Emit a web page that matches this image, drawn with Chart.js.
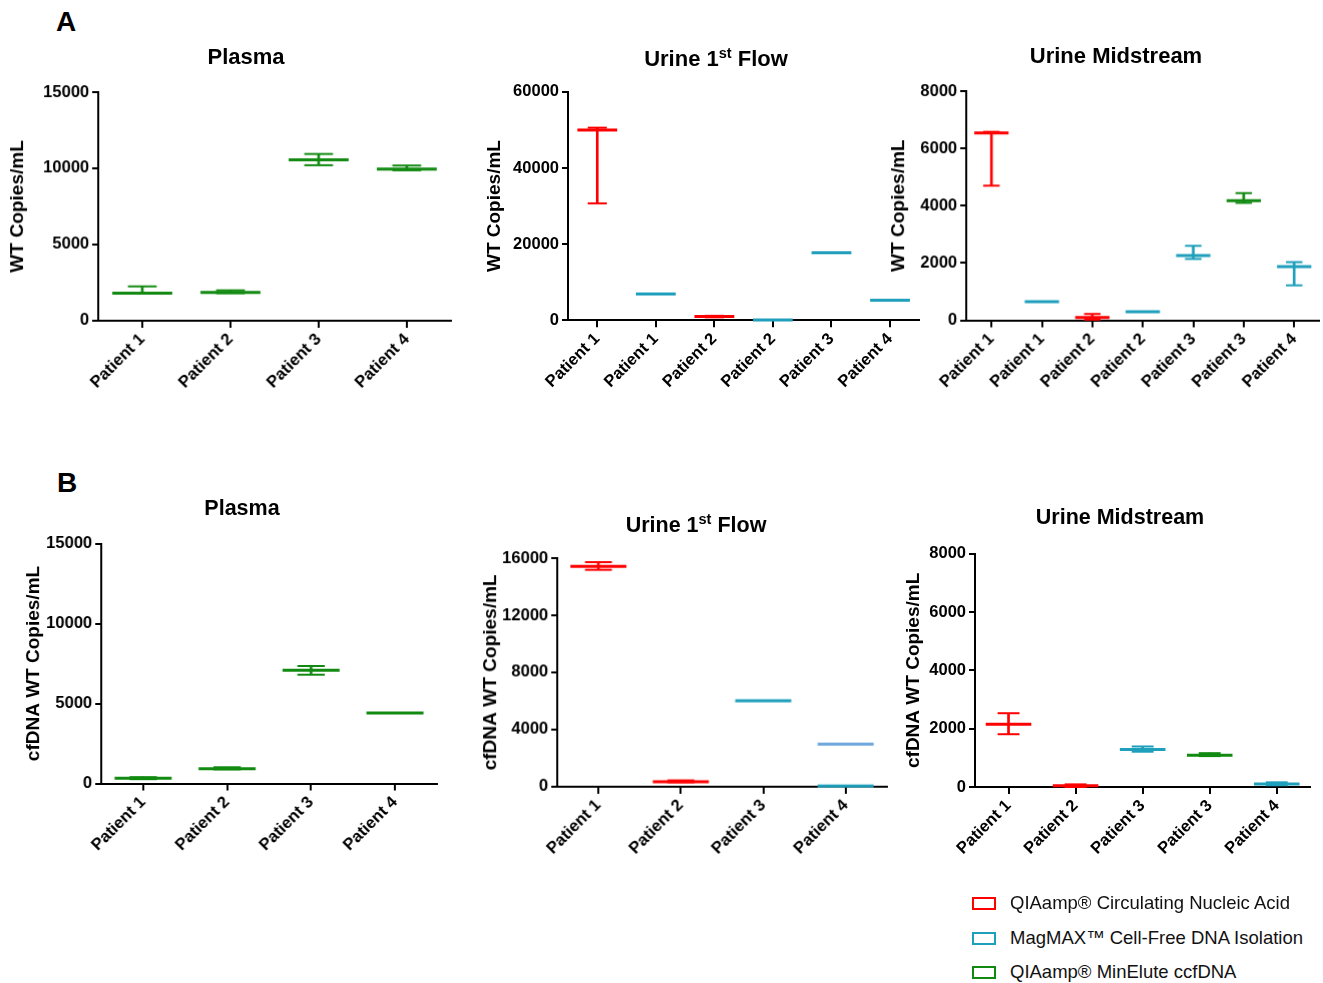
<!DOCTYPE html>
<html>
<head>
<meta charset="utf-8">
<script src="https://cdn.jsdelivr.net/npm/chart.js@4.4.1/dist/chart.umd.min.js"></script>
<style>
  body { margin:0; background:#fff; width:1323px; height:983px; position:relative; overflow:hidden;
         font-family: Arial, "Liberation Sans", Helvetica, sans-serif; }
  .box { position:absolute; }
  .ttl { position:absolute; width:320px; text-align:center; font-weight:bold; font-size:22px; line-height:22px; color:#000; white-space:nowrap; }
  .ttl sup { font-size:14.5px; line-height:0; vertical-align:8px; }
  .lbl { position:absolute; font-weight:bold; font-size:28px; line-height:28px; color:#000; }
  .leg { position:absolute; left:972px; height:24px; display:flex; align-items:center; font-size:18.5px; color:#111; white-space:nowrap; }
  .leg .sw { width:20px; height:9px; border:2px solid; margin-right:14px; }
</style>
</head>
<body>

<script>
// kit per mark: cna = QIAamp Circulating Nucleic Acid, mag = MagMAX, min = QIAamp MinElute
const kitColors = { cna: '#ff0000', mag: '#1e9fbb', min: '#128a12' };

// A - Plasma
const plasmaA_labels = ['Patient 1', 'Patient 2', 'Patient 3', 'Patient 4'];
const plasmaA_kit = ['min', 'min', 'min', 'min'];
const plasmaA_mean = [1810, 1850, 10550, 9940];
const plasmaA_low = [1790, 1800, 10200, 9870];
const plasmaA_high = [2250, 1990, 10940, 10180];
const plasmaA_ticks = [0, 5000, 10000, 15000];

// A - Urine 1st flow
const urine1A_labels = ['Patient 1', 'Patient 1', 'Patient 2', 'Patient 2', 'Patient 3', 'Patient 4'];
const urine1A_kit = ['cna', 'mag', 'cna', 'mag', 'mag', 'mag'];
const urine1A_mean = [50000, 6900, 970, 80, 17750, 5250];
const urine1A_low = [30700, null, 750, null, null, null];
const urine1A_high = [50600, null, 1150, null, null, null];
const urine1A_ticks = [0, 20000, 40000, 60000];

// A - Urine midstream
const midA_labels = ['Patient 1', 'Patient 1', 'Patient 2', 'Patient 2', 'Patient 3', 'Patient 3', 'Patient 4'];
const midA_kit = ['cna', 'mag', 'cna', 'mag', 'mag', 'min', 'mag'];
const midA_mean = [6540, 650, 95, 300, 2260, 4180, 1875];
const midA_low = [4700, null, 20, null, 2140, 4100, 1220];
const midA_high = [6580, null, 220, null, 2600, 4440, 2030];
const midA_ticks = [0, 2000, 4000, 6000, 8000];

// B - Plasma
const plasmaB_labels = ['Patient 1', 'Patient 2', 'Patient 3', 'Patient 4'];
const plasmaB_kit = ['min', 'min', 'min', 'min'];
const plasmaB_mean = [330, 915, 7075, 4400];
const plasmaB_low = [270, 880, 6800, null];
const plasmaB_high = [395, 1015, 7345, null];
const plasmaB_ticks = [0, 5000, 10000, 15000];

// B - Urine 1st flow
const urine1B_labels = ['Patient 1', 'Patient 2', 'Patient 3', 'Patient 4'];
const urine1B_kit = ['cna', 'cna', 'mag', 'mag'];
const urine1B_mean = [15420, 350, 6020, 40];
const urine1B_low = [15180, 300, null, null];
const urine1B_high = [15720, 440, null, null];
const urine1B_extra = [null, null, null, 2980];
const urine1B_ticks = [0, 4000, 8000, 12000, 16000];

// B - Urine midstream
const midB_labels = ['Patient 1', 'Patient 2', 'Patient 3', 'Patient 3', 'Patient 4'];
const midB_kit = ['cna', 'cna', 'mag', 'min', 'mag'];
const midB_mean = [2155, 40, 1290, 1085, 105];
const midB_low = [1810, 0, 1210, 1060, 60];
const midB_high = [2530, 90, 1390, 1160, 160];
const midB_ticks = [0, 2000, 4000, 6000, 8000];

Chart.defaults.font.family = 'Arial, "Liberation Sans", Helvetica, sans-serif';
Chart.defaults.color = '#000';

const yW = 95, pT = 12, pR = 10, xH = 90;

function meanR(c) {
  const a = c.chart.chartArea;
  return a ? (a.right - a.left) / c.chart.data.labels.length * 0.34 : 20;
}
function capR(c) { return meanR(c) * 0.48; }

function panel(area, titleGap, yTitle, labels, kit, mean, low, high, ticks, extra) {
  const div = document.createElement('div');
  div.className = 'box';
  div.style.left = (area[0] - yW) + 'px';
  div.style.top = (area[1] - pT) + 'px';
  div.style.width = (area[2] - area[0] + yW + pR) + 'px';
  div.style.height = (area[3] - area[1] + pT + xH) + 'px';
  const cv = document.createElement('canvas');
  div.appendChild(cv);
  document.body.appendChild(div);

  const cols = kit.map(k => kitColors[k]);
  const pts = (data, r, w, col) => ({
    type: 'line', data: data, showLine: false, clip: false,
    pointStyle: 'line', pointRadius: r, pointHoverRadius: r,
    pointBorderWidth: w, pointBorderColor: col, pointBackgroundColor: col
  });
  const datasets = [
    pts(mean, meanR, 3, cols),
    pts(high, capR, 2, cols),
    pts(low, capR, 2, cols),
    { type: 'bar', data: low.map((l, i) => l == null ? null : [l, high[i]]),
      backgroundColor: cols, barThickness: 2, borderWidth: 0 }
  ];
  if (extra) datasets.push(pts(extra, meanR, 3, '#6fa8dc'));

  const font = { size: 16.5, weight: 'bold' };
  const chart = new Chart(cv, {
    type: 'bar',
    data: { labels: labels, datasets: datasets },
    options: {
      responsive: true, maintainAspectRatio: false, animation: false,
      layout: { padding: { top: pT, right: pR, left: 0, bottom: 0 } },
      plugins: { legend: { display: false }, tooltip: { enabled: false } },
      scales: {
        x: {
          offset: true,
          grid: { offset: false, drawOnChartArea: false, drawTicks: true, tickLength: 7, lineWidth: 2, color: '#000' },
          border: { display: true, color: '#000', width: 2 },
          ticks: { autoSkip: false, minRotation: 45, maxRotation: 45, padding: 2, font: font, color: '#000' },
          afterFit: s => { s.height = xH; }
        },
        y: {
          min: ticks[0], max: ticks[ticks.length - 1],
          afterBuildTicks: s => { s.ticks = ticks.map(v => ({ value: v })); },
          grid: { drawOnChartArea: false, drawTicks: true, tickLength: 6, lineWidth: 2, color: '#000' },
          border: { display: true, color: '#000', width: 2 },
          ticks: { callback: v => String(v), padding: 3, font: font, color: '#000' },
          title: { display: true, text: yTitle, color: '#000', font: { size: 19, weight: 'bold' },
                   padding: { top: titleGap, bottom: 0 } },
          afterFit: s => { s.width = yW; }
        }
      }
    }
  });

  // nudge the canvas box so the plot area lands where the reference has it
  for (let k = 0; k < 2; k++) {
    const a = chart.chartArea;
    const L = parseFloat(div.style.left), T = parseFloat(div.style.top);
    const W = parseFloat(div.style.width), H = parseFloat(div.style.height);
    div.style.left = (L + area[0] - (L + a.left)) + 'px';
    div.style.top = (T + area[1] - (T + a.top)) + 'px';
    div.style.width = (W + (area[2] - area[0]) - (a.right - a.left)) + 'px';
    div.style.height = (H + (area[3] - area[1]) - (a.bottom - a.top)) + 'px';
    chart.resize();
  }
}

panel([98, 91, 451, 320], 3.6, 'WT Copies/mL', plasmaA_labels, plasmaA_kit, plasmaA_mean, plasmaA_low, plasmaA_high, plasmaA_ticks);
panel([568, 91, 920, 320], 10.6, 'WT Copies/mL', urine1A_labels, urine1A_kit, urine1A_mean, urine1A_low, urine1A_high, urine1A_ticks);
panel([966, 91, 1319, 320], 16.6, 'WT Copies/mL', midA_labels, midA_kit, midA_mean, midA_low, midA_high, midA_ticks);
panel([101, 542, 437, 783], 16.6, 'cfDNA WT Copies/mL', plasmaB_labels, plasmaB_kit, plasmaB_mean, plasmaB_low, plasmaB_high, plasmaB_ticks);
panel([557, 557, 887, 786], 17.6, 'cfDNA WT Copies/mL', urine1B_labels, urine1B_kit, urine1B_mean, urine1B_low, urine1B_high, urine1B_ticks, urine1B_extra);
panel([975, 553, 1311, 787], 22.6, 'cfDNA WT Copies/mL', midB_labels, midB_kit, midB_mean, midB_low, midB_high, midB_ticks);
</script>

<div class="lbl" style="left:56px; top:8px;">A</div>
<div class="lbl" style="left:57px; top:469px;">B</div>

<div class="ttl" style="left:86px; top:46px;">Plasma</div>
<div class="ttl" style="left:556px; top:48px;">Urine 1<sup>st</sup> Flow</div>
<div class="ttl" style="left:956px; top:45px;">Urine Midstream</div>
<div class="ttl" style="left:82px; top:497px; font-size:21.5px;">Plasma</div>
<div class="ttl" style="left:536px; top:514px; font-size:21.5px;">Urine 1<sup>st</sup> Flow</div>
<div class="ttl" style="left:960px; top:506px; font-size:21.5px;">Urine Midstream</div>

<div class="leg" style="top:891px;"><span class="sw" style="border-color:#ff0000"></span>QIAamp® Circulating Nucleic Acid</div>
<div class="leg" style="top:926px;"><span class="sw" style="border-color:#1e9fbb"></span>MagMAX™ Cell-Free DNA Isolation</div>
<div class="leg" style="top:960px;"><span class="sw" style="border-color:#128a12"></span>QIAamp® MinElute ccfDNA</div>
</body>
</html>
